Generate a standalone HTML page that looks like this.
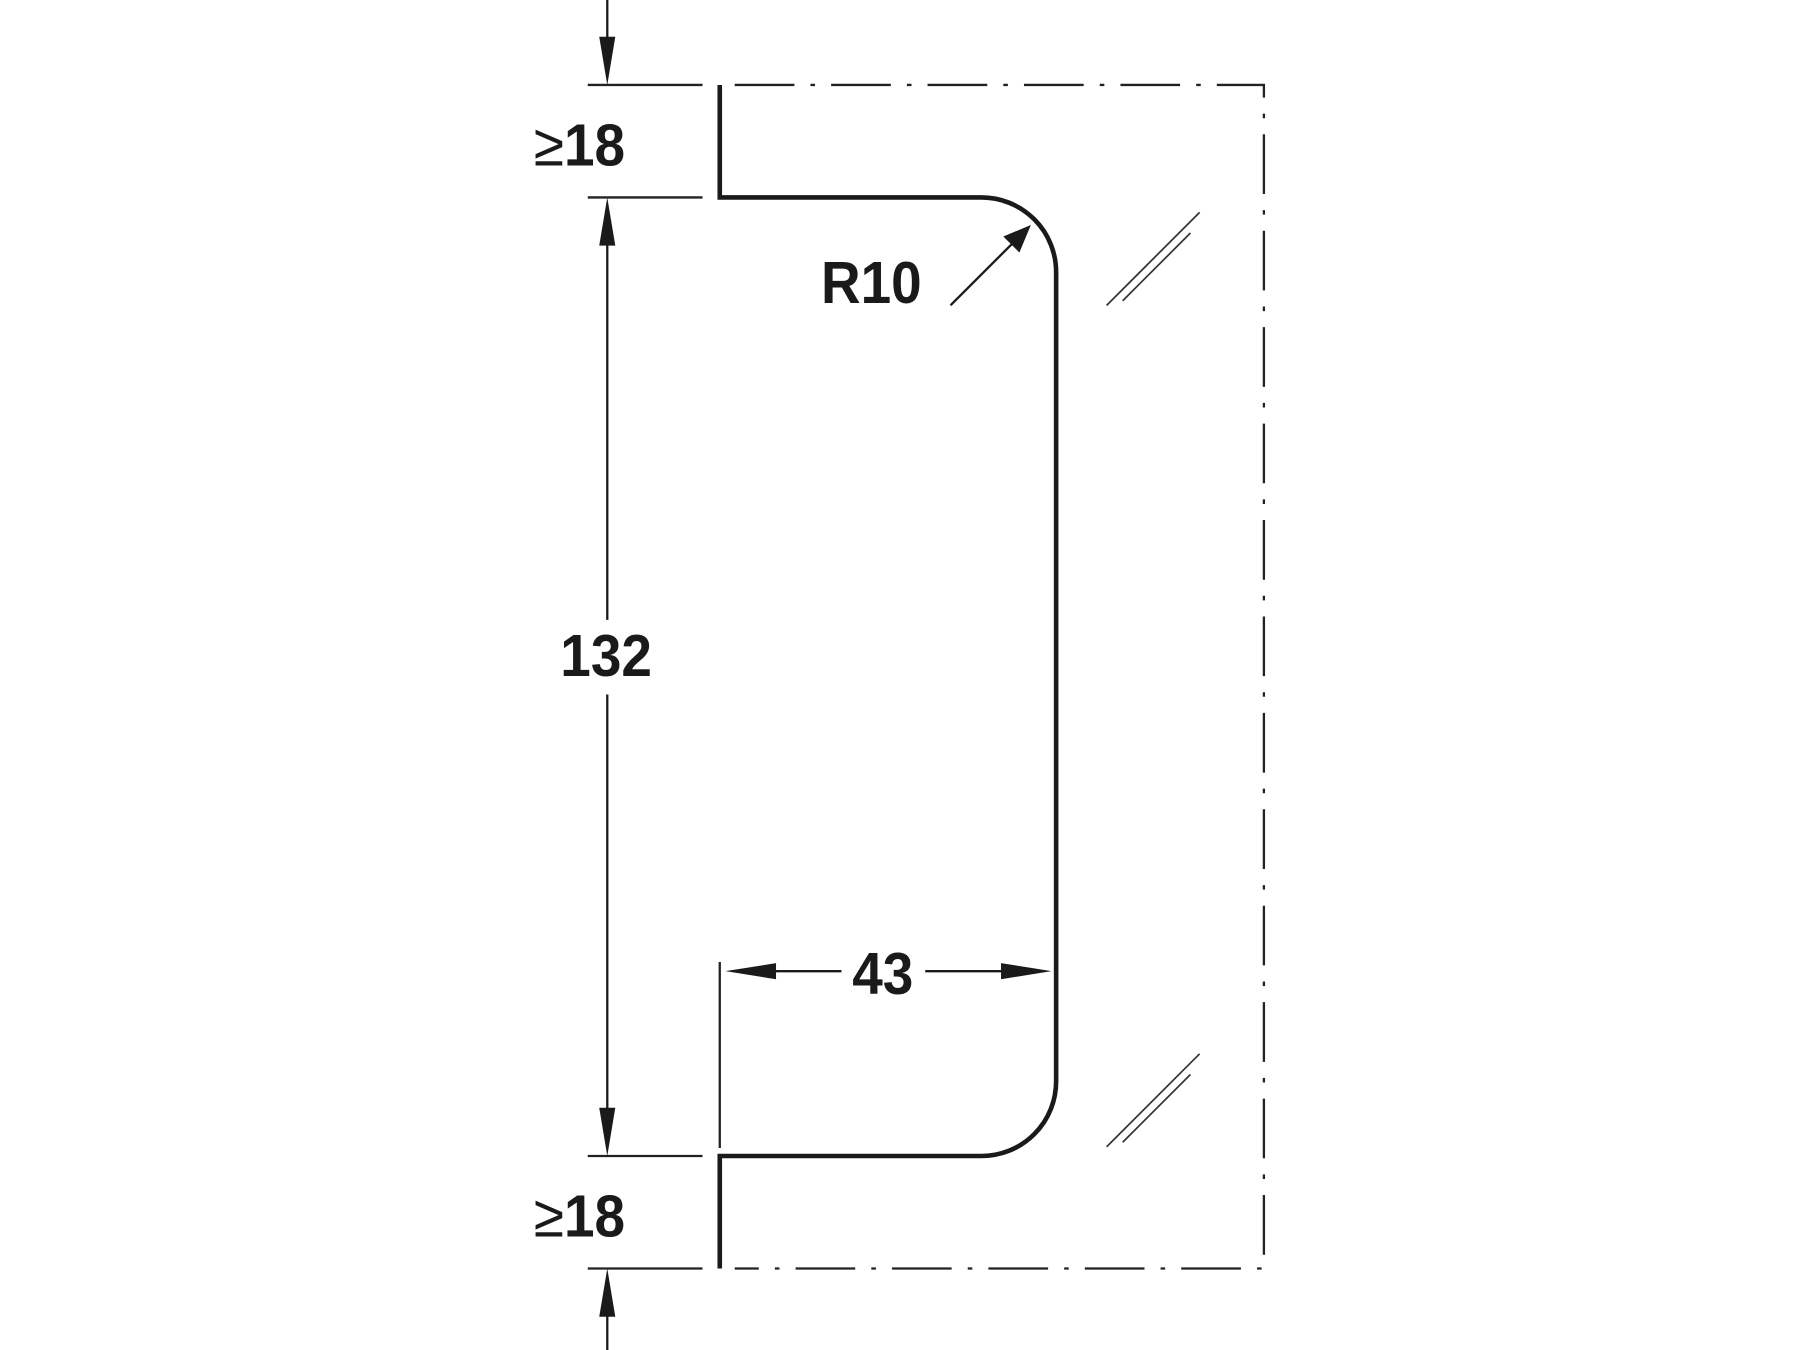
<!DOCTYPE html>
<html><head><style>
html,body{margin:0;padding:0;background:#fff;}
svg{display:block;}
text{font-family:"Liberation Sans",Arial,sans-serif;font-weight:bold;fill:#1a1a1a;}
</style></head><body>
<svg width="1800" height="1350" viewBox="0 0 1568 1176" xmlns="http://www.w3.org/2000/svg">
<rect width="1568" height="1176" fill="#fff"/>
<path d="M640,74 H1101 V1105 H640" fill="none" stroke="#222" stroke-width="2" stroke-dasharray="52,14,4,14"/>
<path d="M627,74 V172 H855 A65,65 0 0 1 920,237 V942 A65,65 0 0 1 855,1007 H627 V1105" fill="none" stroke="#1a1a1a" stroke-width="4"/>
<g stroke="#222" stroke-width="2">
<line x1="512" y1="74" x2="612" y2="74"/>
<line x1="512" y1="172" x2="612" y2="172"/>
<line x1="512" y1="1007" x2="612" y2="1007"/>
<line x1="512" y1="1105" x2="612" y2="1105"/>
<line x1="627" y1="838" x2="627" y2="1000"/>
</g>
<g stroke="#1a1a1a" stroke-width="2">
<line x1="529" y1="0" x2="529" y2="60"/>
<line x1="529" y1="185" x2="529" y2="540"/>
<line x1="529" y1="605" x2="529" y2="995"/>
<line x1="529" y1="1118" x2="529" y2="1176"/>
<line x1="645" y1="846" x2="733" y2="846"/>
<line x1="806" y1="846" x2="905" y2="846"/>
<line x1="828" y1="266" x2="885" y2="209"/>
</g>
<g fill="#1a1a1a">
<polygon points="529,74 522,32 536,32"/>
<polygon points="529,172 522,214 536,214"/>
<polygon points="529,1007 522,965 536,965"/>
<polygon points="529,1105 522,1147 536,1147"/>
<polygon points="632,846 676,839 676,853"/>
<polygon points="916,846 872,839 872,853"/>
<polygon points="898,196 888,220 874,206"/>
</g>
<g stroke="#333" stroke-width="1.5">
<line x1="964" y1="266" x2="1045" y2="185"/>
<line x1="978" y1="262" x2="1037" y2="203"/>
<line x1="964" y1="999" x2="1045" y2="918"/>
<line x1="978" y1="995" x2="1037" y2="936"/>
</g>
<g font-size="52">
<text transform="translate(465,144) scale(0.92,1)"><tspan font-weight="normal">≥</tspan>18</text>
<text transform="translate(465,1077) scale(0.92,1)"><tspan font-weight="normal">≥</tspan>18</text>
<text transform="translate(528,589) scale(0.92,1)" text-anchor="middle">132</text>
<text transform="translate(759,264) scale(0.92,1)" text-anchor="middle">R10</text>
<text transform="translate(769,866) scale(0.92,1)" text-anchor="middle">43</text>
</g>
</svg>
</body></html>
